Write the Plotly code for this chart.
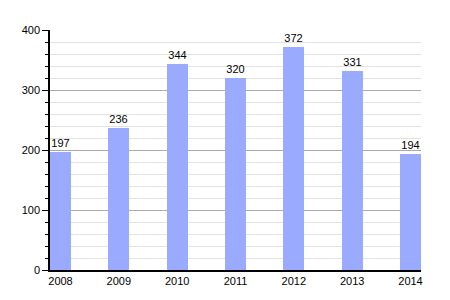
import plotly.graph_objects as go

years = ["2008", "2009", "2010", "2011", "2012", "2013", "2014"]
values = [197, 236, 344, 320, 372, 331, 194]

fig = go.Figure()
fig.add_trace(go.Bar(
    x=years, y=values,
    width=0.36,
    marker=dict(color="#99aaff", line=dict(width=0)),
    text=[str(v) for v in values],
    textposition="outside",
    textfont=dict(size=11, color="black", family="Liberation Sans, Arial, sans-serif"),
    constraintext="none",
    cliponaxis=False,
))

fig.update_layout(
    width=450, height=300,
    margin=dict(l=50, r=29, t=30, b=30),
    paper_bgcolor="white", plot_bgcolor="white",
    showlegend=False,
    font=dict(family="Liberation Sans, Arial, sans-serif", size=11, color="black"),
    bargap=0,
    xaxis=dict(
        type="category",
        range=[-0.18, 6.18],
        showline=True, linecolor="black", linewidth=1.5,
        ticks="", showgrid=False,
        tickfont=dict(size=11, color="black"),
    ),
    yaxis=dict(
        range=[0, 400],
        dtick=100,
        showline=True, linecolor="black", linewidth=1.5,
        ticks="outside", ticklen=6, tickcolor="black", tickwidth=1,
        showgrid=True, gridcolor="#aaaaaa", gridwidth=1,
        zeroline=False,
        tickfont=dict(size=11, color="black"),
        minor=dict(dtick=20, showgrid=True, gridcolor="#e2e2e2", gridwidth=1,
                   ticks="outside", ticklen=3, tickcolor="black"),
    ),
)

fig.write_html("out.html")
